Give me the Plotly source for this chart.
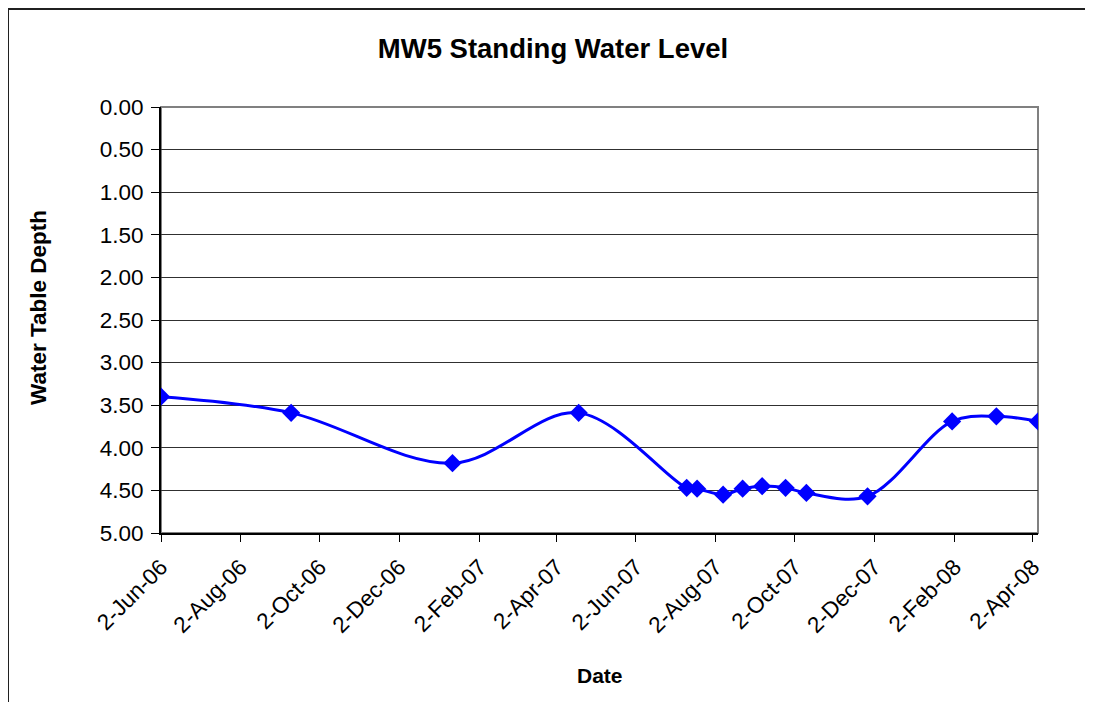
"""MW5 standing water level chart."""

import plotly.graph_objects as go

DATES = [
    "2006-06-02", "2006-09-10", "2007-01-12", "2007-04-19", "2007-07-11",
    "2007-07-19", "2007-08-08", "2007-08-23", "2007-09-07", "2007-09-25",
    "2007-10-11", "2007-11-27", "2008-01-31", "2008-03-05", "2008-04-06",
]
DEPTH = [
    3.40, 3.59, 4.18, 3.59, 4.47,
    4.48, 4.55, 4.48, 4.45, 4.47,
    4.53, 4.57, 3.69, 3.63, 3.69,
]
Y_TICKS = [0.0, 0.5, 1.0, 1.5, 2.0, 2.5, 3.0, 3.5, 4.0, 4.5, 5.0]

FONT = "Arial, 'Liberation Sans', sans-serif"

# page body has an 8px margin, so the figure is sized/offset to compensate
W, H = 1085, 694
L, T, R, B = 153, 99, 55, 169
PW, PH = W - L - R, H - T - B

fig = go.Figure()

fig.add_trace(
    go.Scatter(
        x=DATES,
        y=DEPTH,
        mode="lines+markers",
        line={"color": "#0000ff", "width": 3, "shape": "spline", "smoothing": 1.0},
        marker={"symbol": "diamond", "size": 14, "color": "#0000ff"},
        showlegend=False,
    )
)

# plot area frame (grey top/right) and outer chart border
fig.add_shape(
    type="rect", xref="paper", yref="paper", x0=0, x1=1, y0=0, y1=1,
    line={"color": "#808080", "width": 2}, layer="below",
)
fig.add_shape(
    type="rect", xref="paper", yref="paper",
    x0=-(L - 0) / PW, x1=1.2, y0=-0.5, y1=1 + (T - 1) / PH,
    line={"color": "#202020", "width": 2}, layer="below",
)

fig.update_layout(
    width=W,
    height=H,
    paper_bgcolor="white",
    plot_bgcolor="white",
    font={"family": FONT, "size": 22.5, "color": "black"},
    margin={"l": L, "r": R, "t": T, "b": B, "pad": 0},
    title={
        "text": "<b>MW5 Standing Water Level</b>",
        "font": {"size": 27.5, "family": FONT},
        "x": (553 - 8) / W,
        "xanchor": "center",
        "xref": "container",
        "y": 1 - (48 - 8) / H,
        "yanchor": "middle",
        "yref": "container",
    },
    annotations=[
        dict(
            text="<b>Date</b>", xref="paper", yref="paper", x=0.5, y=-(675 - 533) / PH,
            showarrow=False, font={"size": 21}, xanchor="center", yanchor="middle",
        ),
        dict(
            text="<b>Water Table Depth</b>", xref="paper", yref="paper",
            x=(38 - 161) / PW, y=(533 - 308) / PH, textangle=-90,
            showarrow=False, font={"size": 22.5}, xanchor="center", yanchor="middle",
        ),
    ],
)

fig.update_xaxes(
    type="date",
    range=["2006-06-02", "2008-04-06"],
    tick0="2006-06-02",
    dtick="M2",
    tickformat="%-d-%b-%y",
    tickangle=-45,
    ticks="outside",
    ticklen=7,
    tickcolor="black",
    ticklabelstandoff=3,
    showline=True,
    linecolor="black",
    linewidth=2,
    showgrid=False,
    zeroline=False,
)

fig.update_yaxes(
    range=[5, 0],
    tickvals=Y_TICKS,
    tickformat=".2f",
    ticks="outside",
    ticklen=8,
    tickcolor="black",
    ticklabelstandoff=3,
    showline=True,
    linecolor="black",
    linewidth=2,
    showgrid=True,
    gridcolor="#303030",
    gridwidth=1,
    zeroline=False,
)

fig.write_html("out.html")
